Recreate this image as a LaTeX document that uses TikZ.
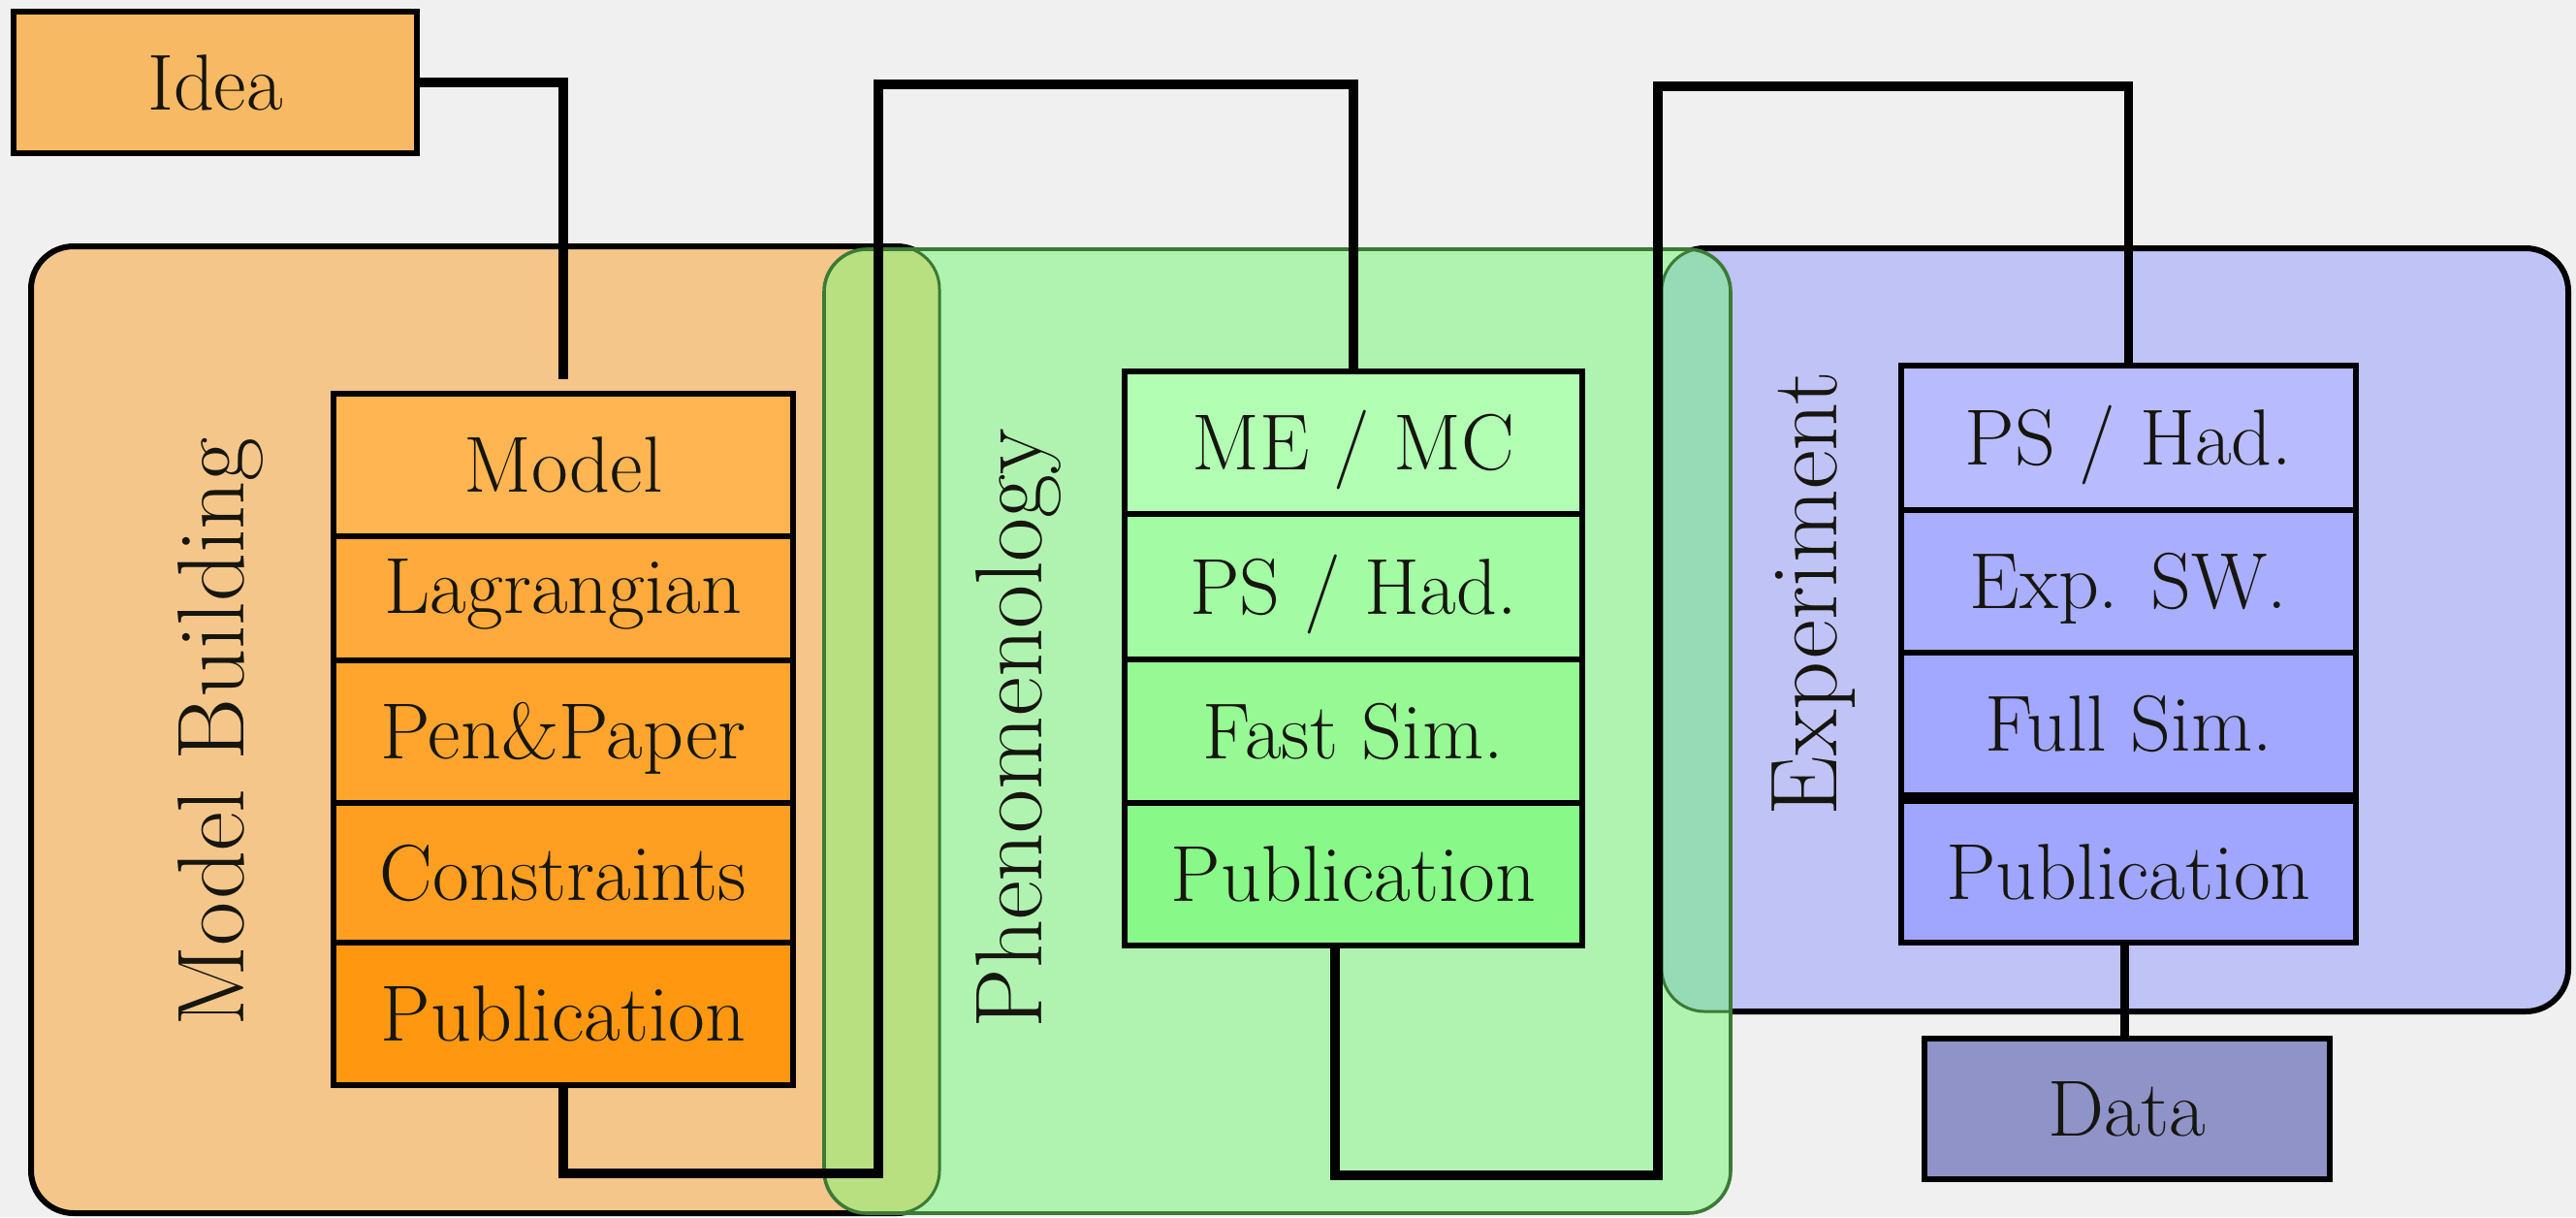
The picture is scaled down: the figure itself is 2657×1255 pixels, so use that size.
\documentclass[tikz,border=0pt]{standalone}
\usetikzlibrary{calc}
\definecolor{bgc}{HTML}{F0F0F0}
\definecolor{orC}{HTML}{F5C68A}
\definecolor{grC}{HTML}{B0F3B0}
\definecolor{blC}{HTML}{C0C3F5}
\definecolor{ogC}{HTML}{B8DF80}
\definecolor{gbC}{HTML}{96DBB5}
\definecolor{grB}{HTML}{3C7A35}
\definecolor{ideaC}{HTML}{F7B963}
\definecolor{oA}{HTML}{FFB552}
\definecolor{oB}{HTML}{FFAA3C}
\definecolor{oC}{HTML}{FFA52E}
\definecolor{oD}{HTML}{FF9F22}
\definecolor{oE}{HTML}{FF9810}
\definecolor{gA}{HTML}{B2FFB4}
\definecolor{gB}{HTML}{A3FBA3}
\definecolor{gC}{HTML}{97F994}
\definecolor{gD}{HTML}{88F988}
\definecolor{bA}{HTML}{B8BCFF}
\definecolor{bB}{HTML}{AAAEFF}
\definecolor{bC}{HTML}{A2A7FF}
\definecolor{bD}{HTML}{A0A6FE}
\definecolor{dataC}{HTML}{8F93C7}
\definecolor{txt}{HTML}{16160F}
\begin{document}
\begin{tikzpicture}[x=0.5pt,y=-0.5pt,line join=miter,
  stackbox/.style={draw=black,line width=3.2pt,inner sep=0pt,outer sep=0pt,text height=28pt,text depth=0pt,font=\fontsize{41}{48}\selectfont,text=txt},
  vlabel/.style={inner sep=0pt,outer sep=0pt,font=\fontsize{49}{56}\selectfont,text=txt,rotate=90,anchor=base},
  conn/.style={draw=black,line width=4.6pt},
  cont/.style={rounded corners=22pt}]
\useasboundingbox (0,0) rectangle (2657,1255);
\fill[bgc] (0,0) rectangle (2657,1255);
% containers
\fill[orC,cont] (32,254) rectangle (969,1251);
\draw[black,line width=3pt,cont] (32,254) rectangle (969,1251);
\fill[blC,cont] (1714,256) rectangle (2649,1043);
\draw[black,line width=3pt,cont] (1714,256) rectangle (2649,1043);
\fill[grC,cont] (850,257) rectangle (1785,1251);
\begin{scope}
\clip[cont] (32,254) rectangle (969,1251);
\fill[ogC,cont] (850,257) rectangle (1785,1251);
\end{scope}
\begin{scope}
\clip[cont] (1714,256) rectangle (2649,1043);
\fill[gbC,cont] (850,257) rectangle (1785,1251);
\end{scope}
\begin{scope}
\clip[cont] (850,257) rectangle (1785,1251);
\draw[grB,line width=1.5pt,cont] (32,254) rectangle (969,1251);
\draw[grB,line width=1.5pt,cont] (1714,256) rectangle (2649,1043);
\end{scope}
\draw[grB,line width=1.8pt,cont] (850,257) rectangle (1785,1251);
% labels
\node[vlabel] (lmb) at (251,755) {Model Building};
\node[vlabel] (lph) at (1074,751) {Phenomenology};
\node[vlabel] (lex) at (1894,612) {Experiment};
% nodes
\node[stackbox,fill=ideaC,minimum width=208pt,minimum height=73pt] (idea) at (222,85) {Idea};
\node[stackbox,fill=oA,minimum width=237pt,minimum height=73.5pt] (mmodel) at (581,479.5) {Model};
\node[stackbox,fill=oB,minimum width=237pt,minimum height=64pt,text depth=13pt] (mlag) at (581,617) {Lagrangian};
\node[stackbox,fill=oC,minimum width=237pt,minimum height=73.5pt] (mpen) at (581,754.5) {Pen\&Paper};
\node[stackbox,fill=oD,minimum width=237pt,minimum height=72pt] (mcon) at (581,900) {Constraints};
\node[stackbox,fill=oE,minimum width=237pt,minimum height=73.5pt] (mpub) at (581,1045.5) {Publication};
\node[stackbox,fill=gA,minimum width=236pt,minimum height=73.5pt] (gme) at (1396,456.5) {ME / MC};
\node[stackbox,fill=gB,minimum width=236pt,minimum height=75pt] (gps) at (1396,605) {PS / Had.};
\node[stackbox,fill=gC,minimum width=236pt,minimum height=74pt] (gfast) at (1396,754) {Fast Sim.};
\node[stackbox,fill=gD,minimum width=236pt,minimum height=73.5pt] (gpub) at (1396,901.5) {Publication};
\node[stackbox,fill=bA,minimum width=234.5pt,minimum height=74.5pt] (bps) at (2195.5,451.5) {PS / Had.};
\node[stackbox,fill=bB,minimum width=234.5pt,minimum height=73.5pt] (bexp) at (2195.5,599.5) {Exp. SW.};
\node[stackbox,fill=bC,minimum width=234.5pt,minimum height=73.5pt] (bfull) at (2195.5,746.5) {Full Sim.};
\node[stackbox,fill=bD,minimum width=234.5pt,minimum height=73pt] (bpub) at (2195.5,899) {Publication};
\node[stackbox,fill=dataC,minimum width=209pt,minimum height=72.5pt] (data) at (2194,1143.5) {Data};
% connectors
\coordinate (k1) at (906,1210);
\coordinate (k2) at (906,87);
\coordinate (k3) at (1710,1212);
\coordinate (k4) at (1710,89);
\draw[conn] (idea.east) -| ([yshift=7.5pt]mmodel.north);
\draw[conn] (mpub.south) |- (k1) -- (k2) -| (gme.north);
\draw[conn] ([xshift=-9.5pt]gpub.south) |- (k3) -- (k4) -| (bps.north);
\draw[conn] ([xshift=-2pt]bpub.south) -- ([xshift=-2pt]bpub.south |- data.north);
\end{tikzpicture}
\end{document}
